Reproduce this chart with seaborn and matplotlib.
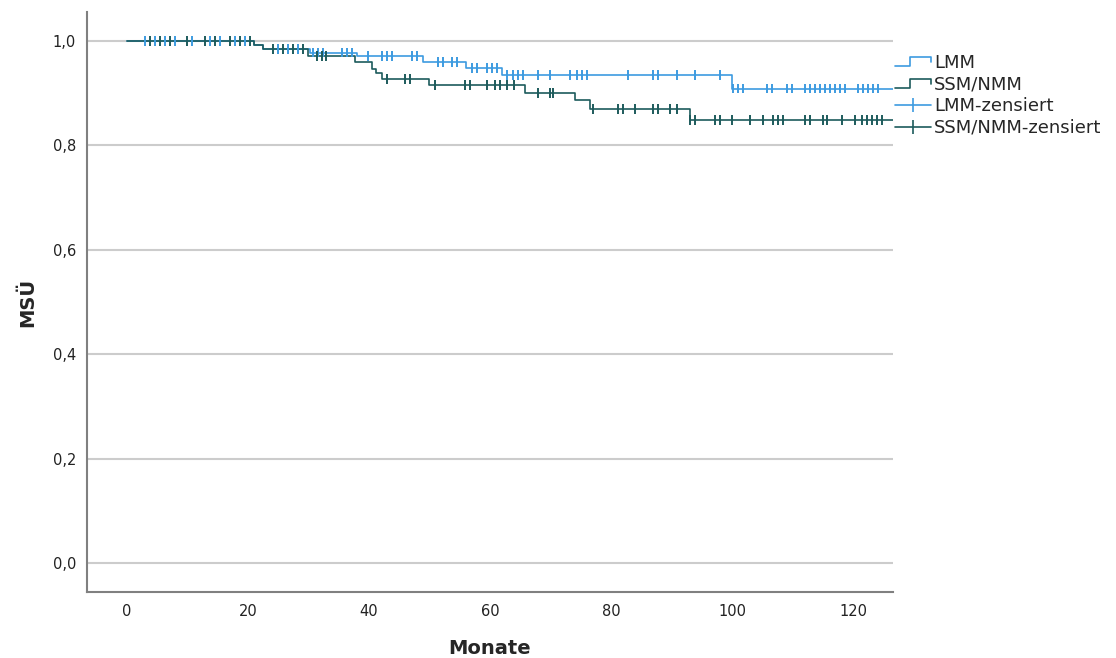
import numpy as np
import pandas as pd
import matplotlib
matplotlib.use("Agg")
import matplotlib.pyplot as plt
from matplotlib.lines import Line2D
from matplotlib.legend_handler import HandlerBase
import seaborn as sns

# Kaplan-Meier step data (months, survival) per group
groups = ["LMM", "SSM/NMM"]
lmm_event_times = [0.0, 21.0, 22.5, 30.3, 38.0, 49.0, 56.0, 62.0, 100.0]
lmm_survival = [1.0, 0.992, 0.985, 0.978, 0.972, 0.960, 0.948, 0.935, 0.909]
ssm_event_times = [0.0, 21.0, 22.5, 30.0, 37.7, 40.5, 41.2, 42.1, 50.0, 65.8, 74.0, 76.5, 93.0]
ssm_survival = [1.0, 0.992, 0.985, 0.971, 0.960, 0.946, 0.938, 0.927, 0.916, 0.900, 0.887, 0.869, 0.849]

# censoring times (months)
lmm_censored = [3.0, 4.6, 6.3, 7.9, 10.7, 13.7, 15.4, 17.9, 19.5, 25.0, 26.6, 28.3,
                30.7, 31.6, 32.4, 35.5, 36.4, 37.2, 39.8, 42.1, 43.0, 43.8, 47.1, 47.9,
                51.4, 52.2, 53.7, 54.5, 57.0, 57.9, 59.5, 60.3, 61.2,
                62.8, 63.8, 64.6, 65.5, 67.9, 69.9, 73.2, 74.4, 75.2, 76.0, 82.8,
                86.9, 87.8, 90.9, 93.9, 98.0,
                100.2, 101.0, 101.8, 105.8, 106.6, 109.1, 109.9, 112.1, 112.9, 113.7,
                114.5, 115.4, 116.2, 117.0, 117.9, 118.7, 120.8, 121.7, 122.5, 123.3, 124.1]
ssm_censored = [3.8, 5.5, 7.1, 9.9, 12.9, 14.5, 17.0, 18.7, 20.3, 24.1, 25.8, 27.4, 29.1,
                31.4, 32.2, 32.9, 43.0, 46.0, 46.8, 50.9, 55.9, 56.7,
                59.5, 60.8, 61.7, 62.8, 64.0, 67.9, 69.9, 70.4,
                77.0, 81.2, 82.0, 84.0, 86.9, 87.8, 89.8, 90.9,
                93.1, 93.9, 97.2, 98.0, 100.0, 103.0, 105.1, 106.8, 107.6, 108.4,
                112.1, 112.9, 115.0, 115.7, 118.2, 120.3, 121.5, 122.3, 123.1, 124.0, 124.8]
follow_up_end = 126.6

colors = {"LMM": "#3d9be0", "SSM/NMM": "#1d5b5c"}

steps = []
marks = []
for g, t, s, c in [("LMM", lmm_event_times, lmm_survival, lmm_censored),
                   ("SSM/NMM", ssm_event_times, ssm_survival, ssm_censored)]:
    tt = list(t) + [follow_up_end]
    ss = list(s) + [s[-1]]
    steps.append(pd.DataFrame({"Monate": tt, "MSÜ": ss, "Gruppe": g}))
    idx = np.searchsorted(np.array(t), np.array(c), side="right") - 1
    marks.append(pd.DataFrame({"Monate": c, "MSÜ": np.array(s)[idx], "Gruppe": g}))
steps = pd.concat(steps, ignore_index=True)
marks = pd.concat(marks, ignore_index=True)

sns.set_style("white")
plt.rcParams["font.family"] = ["DejaVu Sans"]

fig = plt.figure(figsize=(11.16, 6.58), dpi=100)
ax = fig.add_axes([87 / 1116, 1 - 592 / 658, (893 - 87) / 1116, (592 - 12) / 658])

sns.lineplot(data=steps, x="Monate", y="MSÜ", hue="Gruppe", palette=colors,
             estimator=None, drawstyle="steps-post", linewidth=1.2, legend=False, ax=ax)
sns.scatterplot(data=marks, x="Monate", y="MSÜ", hue="Gruppe", palette=colors,
                marker="|", s=50, linewidth=1.4, legend=False, ax=ax, zorder=3)

ax.set_xlim(-6.6, 126.6)
ax.set_ylim(-0.0556, 1.0556)
ax.set_xticks([0, 20, 40, 60, 80, 100, 120])
ax.set_yticks([0.0, 0.2, 0.4, 0.6, 0.8, 1.0])
ax.set_yticklabels([f"{v:.1f}".replace(".", ",") for v in ax.get_yticks()])
ax.tick_params(axis="both", length=0, labelsize=10.5, colors="#222222")
ax.tick_params(axis="x", pad=9)
ax.tick_params(axis="y", pad=8)
ax.yaxis.grid(True, color="#cccccc", linewidth=1.5)
ax.xaxis.grid(False)
ax.set_axisbelow(True)
for side in ["top", "right"]:
    ax.spines[side].set_visible(False)
for side in ["left", "bottom"]:
    ax.spines[side].set_color("#808080")
    ax.spines[side].set_linewidth(1.5)

ax.set_xlabel("Monate", fontsize=14, fontweight="bold", labelpad=14)
ax.set_ylabel("MSÜ", fontsize=14, fontweight="bold", labelpad=11)


class StepHandle:
    def __init__(self, color):
        self.color = color


class StepHandler(HandlerBase):
    def create_artists(self, legend, orig, xd, yd, width, height, fontsize, trans):
        x0 = -xd
        y0 = -yd
        xs = [x0, x0 + 0.42 * width, x0 + 0.42 * width, x0 + width, x0 + width]
        ys = [y0 + 0.15 * height, y0 + 0.15 * height, y0 + 0.85 * height,
              y0 + 0.85 * height, y0 + 0.45 * height]
        line = Line2D(xs, ys, color=orig.color, linewidth=1.2, transform=trans)
        return [line]


handles = [StepHandle(colors["LMM"]), StepHandle(colors["SSM/NMM"]),
           Line2D([], [], color=colors["LMM"], marker="|", markersize=10, markeredgewidth=1.2, linewidth=1.2),
           Line2D([], [], color=colors["SSM/NMM"], marker="|", markersize=10, markeredgewidth=1.2, linewidth=1.2)]
labels = ["LMM", "SSM/NMM", "LMM-zensiert", "SSM/NMM-zensiert"]
fig.legend(handles, labels, handler_map={StepHandle: StepHandler()},
           loc="upper left", bbox_to_anchor=(895 / 1116, 1 - 54 / 658),
           frameon=False, fontsize=13, handlelength=2.0, handletextpad=0.15,
           labelspacing=0.2, borderpad=0, borderaxespad=0)

fig.savefig("out.png", dpi=100)
